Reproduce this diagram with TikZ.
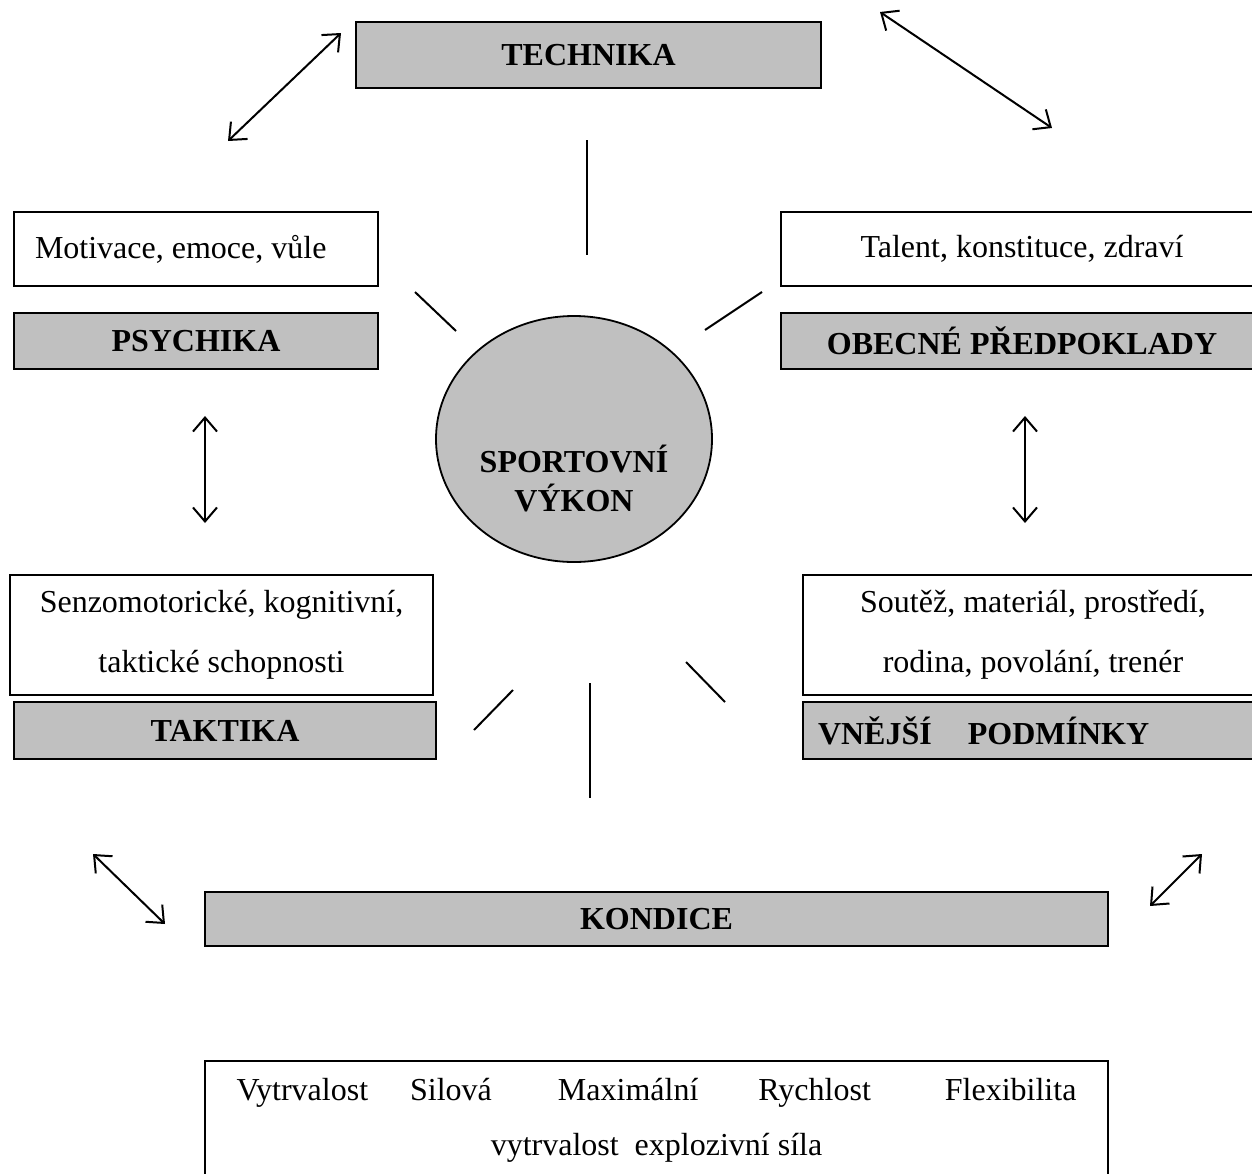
\documentclass[tikz,border=0pt]{standalone}
\usepackage{fontspec}
\setmainfont{Liberation Serif}
\usetikzlibrary{arrows.meta,shapes.geometric}
\definecolor{boxgray}{RGB}{192,192,192}
\begin{document}
\begin{tikzpicture}[x=1pt,y=-1pt,
  every node/.style={font=\fontsize{32}{60}\selectfont, inner sep=0pt},
  greybox/.style={draw, line width=1.8pt, fill=boxgray, font=\fontsize{32}{60}\selectfont\bfseries},
  whitebox/.style={draw, line width=1.8pt, fill=white, align=center},
  ray/.style={line width=2pt},
  >={Straight Barb[length=14pt,width=24pt]}]
  \useasboundingbox (0,0) rectangle (1252,1173);
  % boxes
  \node[greybox, minimum width=465pt, minimum height=66pt] (technika) at (588.5,55) {TECHNIKA};
  \node[whitebox, text width=322pt, inner xsep=21pt, minimum height=74pt, align=flush left] (motivace) at (196,249) {Motivace, emoce, vůle};
  \node[greybox, minimum width=364pt, minimum height=56pt] (psychika) at (196,341) {PSYCHIKA};
  \node[whitebox, minimum width=482pt, minimum height=74pt] (talent) at (1022,249) {Talent, konstituce, zdraví};
  \node[greybox, minimum width=482pt, minimum height=56pt] (obecne) at (1022,341) {OBECNÉ PŘEDPOKLADY};
  \node[whitebox, minimum width=423pt, minimum height=120pt] (senzo) at (221.5,635) {Senzomotorické, kognitivní,\\taktické schopnosti};
  \node[greybox, minimum width=422pt, minimum height=57pt] (taktika) at (225,730.5) {TAKTIKA};
  \node[whitebox, minimum width=460pt, minimum height=120pt] (soutez) at (1033,635) {Soutěž, materiál, prostředí,\\rodina, povolání, trenér};
  \node[greybox, text width=430pt, inner xsep=15pt, minimum height=57pt, align=flush left] (vnejsi) at (1033,730.5) {VNĚJŠÍ\hspace{36pt}PODMÍNKY};
  \node[greybox, minimum width=903pt, minimum height=54pt] (kondice) at (656.5,919) {KONDICE};
  \node[whitebox, minimum width=903pt, minimum height=118pt, font=\fontsize{32}{55}\selectfont] (slozky) at (656.5,1120)
    {Vytrvalost\hspace{42pt}Silová\hspace{66pt}Maximální\hspace{60pt}Rychlost\hspace{74pt}Flexibilita\\vytrvalost\ \ explozivní síla};
  % centre
  \node[ellipse, draw, line width=1.8pt, fill=boxgray, minimum width=276pt, minimum height=246pt] (vykon) at (574,439) {};
  \node[align=center, font=\fontsize{32}{39}\selectfont\bfseries] (vykontext) at (574,479) {SPORTOVNÍ\\VÝKON};
  % rays
  \coordinate (r1a) at (587,140); \coordinate (r1b) at (587,255);
  \coordinate (r2a) at (415,292); \coordinate (r2b) at (456,331);
  \coordinate (r3a) at (705,330); \coordinate (r3b) at (762,292);
  \coordinate (r4a) at (474,730); \coordinate (r4b) at (513,690);
  \coordinate (r5a) at (686,662); \coordinate (r5b) at (725,702);
  \coordinate (r6a) at (590,683); \coordinate (r6b) at (590,798);
  \draw[ray] (r1a) -- (r1b);
  \draw[ray] (r2a) -- (r2b);
  \draw[ray] (r3a) -- (r3b);
  \draw[ray] (r4a) -- (r4b);
  \draw[ray] (r5a) -- (r5b);
  \draw[ray] (r6a) -- (r6b);
  % arrows
  \coordinate (a1a) at (228,141); \coordinate (a1b) at (341,33);
  \coordinate (a2a) at (880,12); \coordinate (a2b) at (1052,128);
  \coordinate (a3a) at (205,416); \coordinate (a3b) at (205,523);
  \coordinate (a4a) at (1025,416); \coordinate (a4b) at (1025,523);
  \coordinate (a5a) at (93,854); \coordinate (a5b) at (165,924);
  \coordinate (a6a) at (1150,906); \coordinate (a6b) at (1202,854);
  \draw[ray,<->] (a1a) -- (a1b);
  \draw[ray,<->] (a2a) -- (a2b);
  \draw[ray,<->] (a3a) -- (a3b);
  \draw[ray,<->] (a4a) -- (a4b);
  \draw[ray,<->] (a5a) -- (a5b);
  \draw[ray,<->] (a6a) -- (a6b);
\end{tikzpicture}
\end{document}
